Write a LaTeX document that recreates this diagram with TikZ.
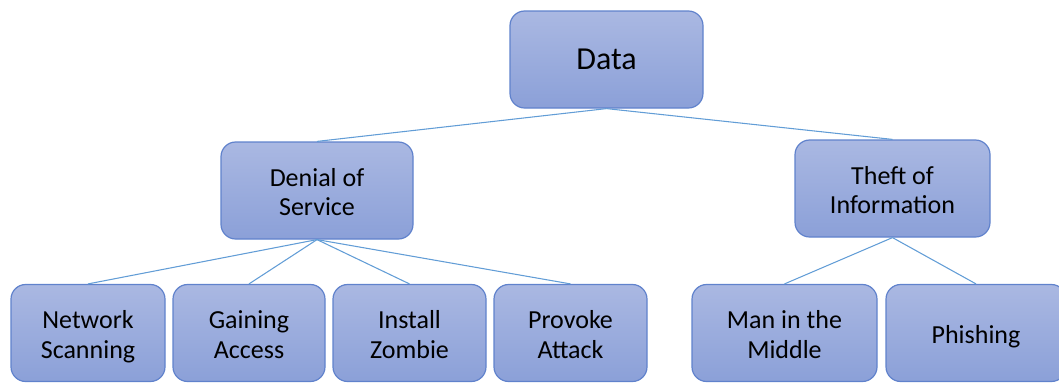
\documentclass[tikz,border=0pt]{standalone}
\usepackage{fontspec}
\setmainfont{Carlito}
\usepackage{tikz}

\definecolor{boxtop}{RGB}{170,184,226}
\definecolor{boxbot}{RGB}{139,160,216}
\definecolor{boxline}{RGB}{96,130,204}
\definecolor{wire}{RGB}{98,157,214}

% invisible rules that set where the text lines sit in a box
\newcommand{\topln}{\rule{0pt}{20pt}}
\newcommand{\botln}{\rule[-4.4pt]{0pt}{4.4pt}}
\newcommand{\oneln}{\rule[-4.4pt]{0pt}{24pt}}

\begin{document}
\begin{tikzpicture}[x=0.75pt,y=0.75pt,yscale=-1,
  box/.style={draw=boxline,line width=0.9pt,rounded corners=11pt,
    top color=boxtop,bottom color=boxbot,align=center,inner sep=0pt,
    minimum height=72.75pt,font=\fontsize{19.5}{22}\selectfont},
  wire/.style={draw=wire,line width=0.8pt}]
\useasboundingbox (0,0) rectangle (1059,383);

% Root
\node [box,minimum width=144.75pt,font=\fontsize{24}{27}\selectfont] (data) at (606.5,59.5) {Data};

% Second level
\node [box,minimum width=144pt] (dos) at (317,190.5) {\topln Denial of\\Service\botln};
\node [box,minimum width=146.25pt] (theft) at (892.5,188.5) {\topln Theft of\\Information\botln};

% Leaves of Denial of Service
\node [box,minimum width=115.5pt] (scan) at (88,333) {\topln Network\\Scanning\botln};
\node [box,minimum width=114pt] (gain) at (249,333) {\topln Gaining\\Access\botln};
\node [box,minimum width=114.75pt] (zombie) at (409.5,333) {\topln Install\\Zombie\botln};
\node [box,minimum width=114.75pt] (provoke) at (570.5,333) {\topln Provoke\\Attack\botln};

% Leaves of Theft of Information
\node [box,minimum width=138.75pt] (mitm) at (784.5,333) {\topln Man in the\\Middle\botln};
\node [box,minimum width=135pt] (phish) at (976,333) {\oneln Phishing};

% Connectors
\draw [wire] (data.south) -- (dos.north);
\draw [wire] (data.south) -- (theft.north);
\foreach \leaf in {scan,gain,zombie,provoke}
  \draw [wire] (dos.south) -- (\leaf.north);
\foreach \leaf in {mitm,phish}
  \draw [wire] (theft.south) -- (\leaf.north);

\end{tikzpicture}
\end{document}
